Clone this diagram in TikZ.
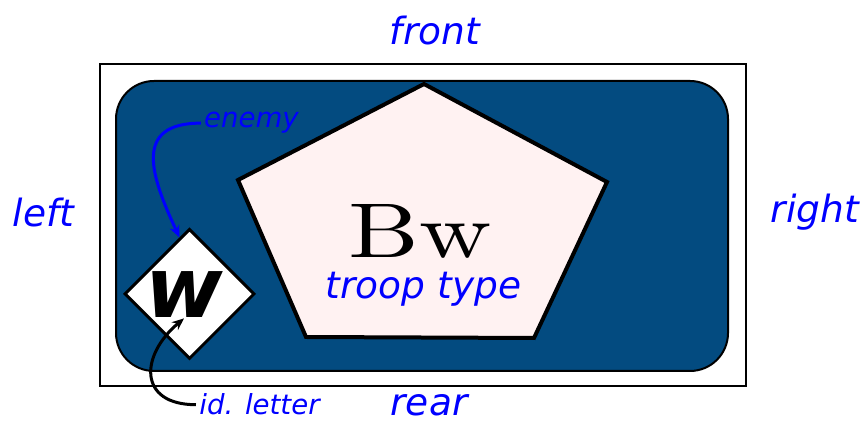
\documentclass[tikz,border=0pt]{standalone}
\usepackage{fontspec}
\usepackage{graphicx}
\newfontfamily\labelfont{DejaVu Sans}
\usetikzlibrary{shapes.geometric,arrows.meta}
\definecolor{basecol}{HTML}{034B80}
\definecolor{typecol}{HTML}{FFF2F2}

\begin{document}
\begin{tikzpicture}[x=0.5pt,y=0.5pt,
    side/.style={text=blue,inner sep=0,anchor=base,font=\labelfont\itshape\fontsize{18.75}{20}\selectfont},
    note/.style={text=blue,inner sep=1.5pt,anchor=base,font=\labelfont\itshape\fontsize{13.8}{15}\selectfont},
    pointer/.style={line width=1.5pt,-{Stealth[length=6pt,width=5pt]}}]
  \useasboundingbox (0,0) rectangle (865,421);
  % base and troop type
  \draw[line width=0.8pt] (100,35) rectangle (746,357);
  \draw[fill=basecol,line width=1pt,rounded corners=19pt] (116,50) rectangle (728,340);
  \draw[fill=typecol,line width=2pt] (424,337) -- (607,239) -- (534,83) -- (306,84) -- (238,241) -- cycle;
  \node[diamond,draw,fill=white,line width=1.5pt,minimum size=65pt,inner sep=0] (mark) at (189.5,127) {};
  \node[inner sep=0,anchor=base,font=\labelfont\bfseries\itshape\fontsize{42}{42}\selectfont] (w) at (184,103) {w};
  \node[inner sep=0,anchor=base,font=\fontsize{10}{12}\selectfont] (type) at (420,163) {\scalebox{5.0}[3.88]{Bw}};
  % labels
  \node[side] (front) at (435,376) {front};
  \node[side] (rear) at (429,5) {rear};
  \node[side] (left) at (43.5,194) {left};
  \node[side] (right) at (815,198) {right};
  \node[side] (typename) at (423.5,122) {troop type};
  \node[note] (enemy) at (251.5,293) {enemy};
  \node[note] (letter) at (259.5,6) {id. letter};
  \draw[pointer,blue] (enemy.west) to[out=180,in=115,looseness=1.5] (mark.100);
  \draw[pointer] (letter.west) to[out=180,in=220,looseness=1.7] (w.south);
\end{tikzpicture}
\end{document}
